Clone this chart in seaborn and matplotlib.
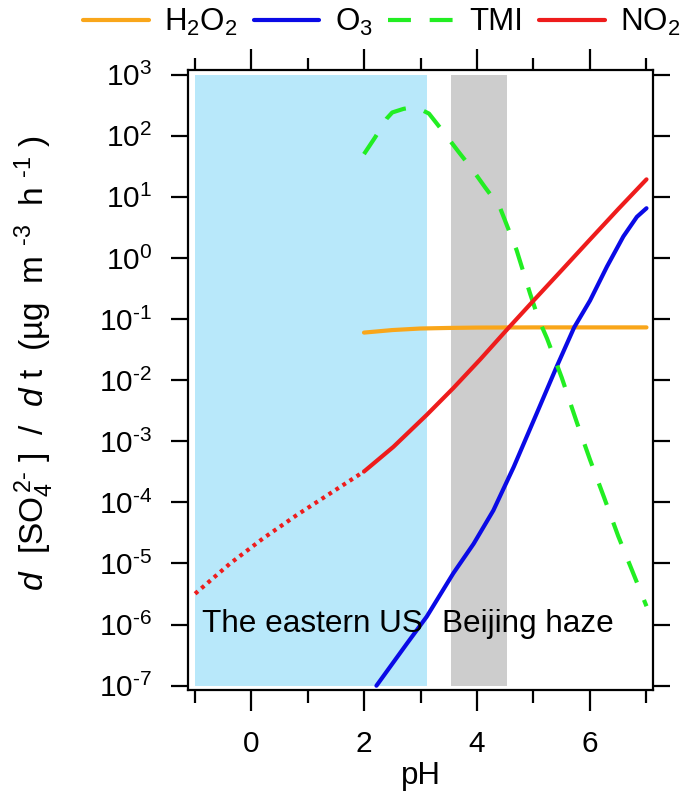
import numpy as np
import pandas as pd
import matplotlib
matplotlib.use("Agg")
import matplotlib.pyplot as plt
from matplotlib.lines import Line2D
from matplotlib.ticker import LogLocator, NullLocator, FixedLocator, FuncFormatter
import seaborn as sns

# ---------------- data ----------------
h2o2_ph = [2.0, 2.5, 3.0, 3.5, 4.0, 5.0, 6.0, 7.0]
h2o2_val = [6.0e-2, 6.6e-2, 7.0e-2, 7.15e-2, 7.25e-2, 7.3e-2, 7.3e-2, 7.3e-2]

o3_ph = [2.22, 2.76, 3.11, 3.58, 3.94, 4.29, 4.65, 5.06, 5.41, 5.72, 6.0, 6.3, 6.59, 6.83, 7.0]
o3_val = [1.0e-7, 4.9e-7, 1.35e-6, 6.9e-6, 2.1e-5, 7.4e-5, 3.8e-4, 2.9e-3, 1.66e-2,
          7.3e-2, 2.0e-1, 7.2e-1, 2.24, 4.7, 6.5]

tmi_ph = [2.0, 2.2, 2.4, 2.5, 2.7, 2.85, 3.0, 3.15, 3.4, 3.67, 3.9, 4.15, 4.4, 4.7,
          4.94, 5.09, 5.24, 5.5, 5.77, 6.0, 6.25, 6.5, 6.75, 7.0]
tmi_val = [50.0, 95.0, 190.0, 240.0, 275.0, 290.0, 270.0, 230.0, 117.0, 55.0, 29.5,
           14.0, 6.9, 1.35, 2.6e-1, 1.0e-1, 4.8e-2, 1.1e-2, 2.0e-3, 5.0e-4,
           1.2e-4, 2.8e-5, 7.5e-6, 2.0e-6]

no2_ph = [2.0, 2.52, 3.11, 3.58, 4.06, 4.56, 5.0, 5.5, 6.0, 6.5, 7.0]
no2_val = [3.2e-4, 8.1e-4, 2.7e-3, 7.4e-3, 2.2e-2, 7.2e-2, 2.0e-1, 6.3e-1, 2.0, 6.3, 19.3]

no2x_ph = [-0.99, -0.37, 0.22, 0.81, 1.40, 2.0]
no2x_val = [3.2e-6, 1.0e-5, 2.6e-5, 6.2e-5, 1.4e-4, 3.2e-4]

us_range = [-1.0, 3.12]
bj_range = [3.54, 4.53]
shade_y = [1e-7, 1e3]

xticks_major = [0, 2, 4, 6]
xticks_minor = [-1, 1, 3, 5, 7]

labels = ["H$_2$O$_2$", "O$_3$", "TMI", "NO$_2$"]
colors = ["#F9A61A", "#0A0AE6", "#22EE22", "#EE1C1C"]

# ---------------- style ----------------
sns.set_theme(style="ticks")
plt.rcParams["font.family"] = ["Liberation Sans", "DejaVu Sans"]
plt.rcParams["mathtext.fontset"] = "custom"
plt.rcParams["mathtext.rm"] = "Liberation Sans"
plt.rcParams["mathtext.it"] = "Liberation Sans:italic"
plt.rcParams["mathtext.bf"] = "Liberation Sans:bold"
plt.rcParams["mathtext.default"] = "regular"
for k in ["text.color", "axes.labelcolor", "xtick.color", "ytick.color",
          "xtick.labelcolor", "ytick.labelcolor", "axes.edgecolor"]:
    plt.rcParams[k] = "black"

fig = plt.figure(figsize=(6.85, 8.05), dpi=100)
ax = fig.add_axes([188.3 / 685, 115 / 805, 464.4 / 685, 620 / 805])
ax.set_yscale("log")
ax.set_xlim(-1.11, 7.11)
ax.set_ylim(10 ** -7.07, 10 ** 3.075)

# shaded regions
ax.fill_between(us_range, shade_y[0], shade_y[1], color="#B8E8FA", lw=0, zorder=0)
ax.fill_between(bj_range, shade_y[0], shade_y[1], color="#CDCDCD", lw=0, zorder=0)

lw = 3.0
df_h = pd.DataFrame({"pH": h2o2_ph, "rate": h2o2_val})
df_o = pd.DataFrame({"pH": o3_ph, "rate": o3_val})
df_t = pd.DataFrame({"pH": tmi_ph, "rate": tmi_val})
df_n = pd.DataFrame({"pH": no2_ph, "rate": no2_val})
df_nx = pd.DataFrame({"pH": no2x_ph, "rate": no2x_val})

sns.lineplot(data=df_h, x="pH", y="rate", ax=ax, color=colors[0], lw=lw, estimator=None)
sns.lineplot(data=df_o, x="pH", y="rate", ax=ax, color=colors[1], lw=lw, estimator=None)
sns.lineplot(data=df_t, x="pH", y="rate", ax=ax, color=colors[2], lw=lw, estimator=None,
             linestyle=(0, (5.5, 4.5)))
sns.lineplot(data=df_n, x="pH", y="rate", ax=ax, color=colors[3], lw=lw, estimator=None)
sns.lineplot(data=df_nx, x="pH", y="rate", ax=ax, color=colors[3], lw=lw, estimator=None,
             linestyle=(0, (0.9, 1.1)))

ax.text(-0.87, 7.45e-7, "The eastern US", fontsize=22.7, ha="left", va="baseline")
ax.text(3.38, 7.45e-7, "Beijing haze", fontsize=22.7, ha="left", va="baseline")

# axes and ticks
for s in ax.spines.values():
    s.set_visible(True)
    s.set_linewidth(1.6)
    s.set_color("black")


def log_fmt(v, pos):
    e = int(round(np.log10(v)))
    return r"$10^{\text{%d}}$" % e


ax.yaxis.set_major_locator(LogLocator(base=10, numticks=30))
ax.yaxis.set_major_formatter(FuncFormatter(log_fmt))
ax.yaxis.set_minor_locator(NullLocator())
ax.xaxis.set_major_locator(FixedLocator(xticks_major))
ax.xaxis.set_minor_locator(FixedLocator(xticks_minor))
ax.tick_params(axis="both", which="both", direction="out", top=True, right=True,
               width=1.6, color="black", labelsize=21.5, labelcolor="black")
ax.tick_params(axis="y", which="major", length=12, pad=14)
ax.tick_params(axis="x", which="major", length=15, pad=14)
ax.tick_params(axis="x", which="minor", length=9)
ax.grid(False)
ax.xaxis.offsetText.set_visible(False)
ax.yaxis.offsetText.set_visible(False)

ax.set_xlabel("pH", fontsize=22.5, labelpad=2)
ax.set_ylabel(r"$\it{d}$  [SO$_4^{\,\text{2-}}$ ]  /  $\it{d}$ t  (µg  m $^{\text{-3}}$  h $^{\text{-1}}$ )",
              fontsize=24)
ax.yaxis.set_label_coords(-0.285, 0.527)

handles = [
    Line2D([], [], color=colors[0], lw=lw),
    Line2D([], [], color=colors[1], lw=lw),
    Line2D([], [], color=colors[2], lw=lw, linestyle=(0, (5.5, 4.5))),
    Line2D([], [], color=colors[3], lw=lw),
]
fig.legend(handles, labels, loc="center", bbox_to_anchor=(382 / 685, 1 - 22 / 805),
           ncol=4, frameon=False, fontsize=22.5, handlelength=2.1, handletextpad=0.5,
           columnspacing=0.5, borderaxespad=0, borderpad=0)

fig.savefig("out.png", dpi=100)
